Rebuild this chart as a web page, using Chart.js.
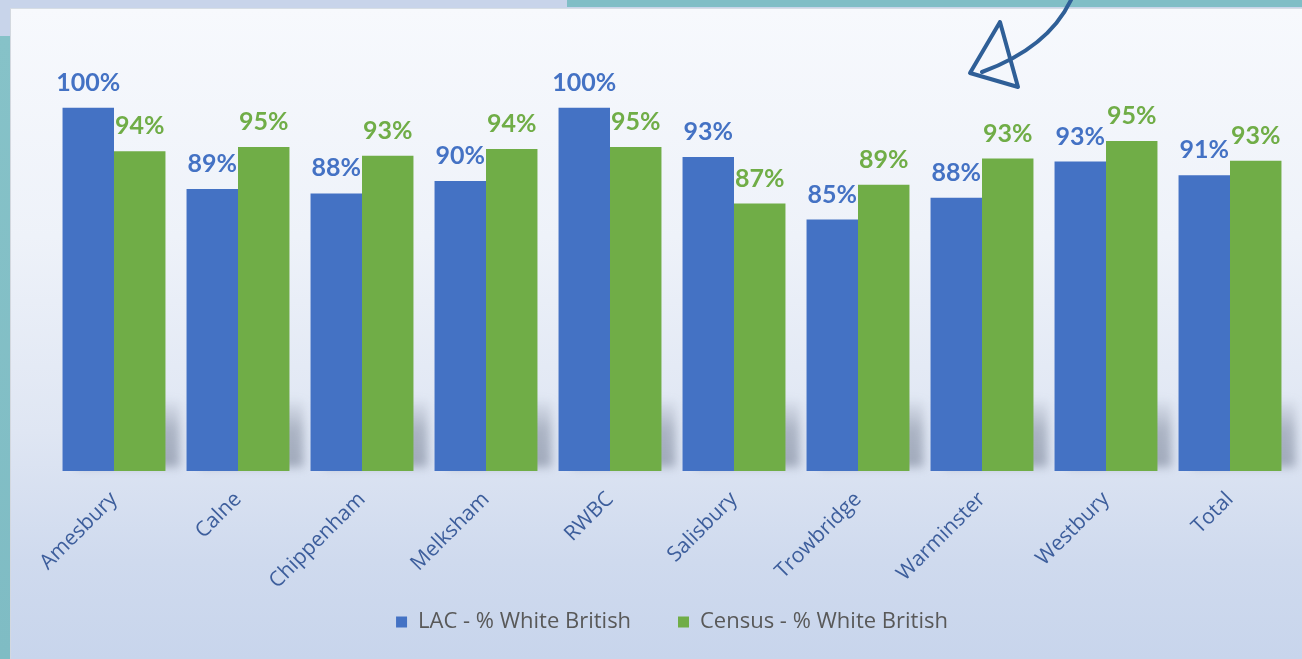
<!DOCTYPE html>
<html>
<head>
<meta charset="utf-8">
<script src="https://cdn.jsdelivr.net/npm/chart.js@4/dist/chart.umd.min.js"></script>
<style>
  html, body { margin: 0; padding: 0; }
  body { width: 1302px; height: 659px; position: relative; overflow: hidden; background: #c8d4ea; }
  .bar-top { position: absolute; left: 567px; top: 0; width: 735px; height: 7px; background: #80bec6; }
  .bar-left { position: absolute; left: 0; top: 36px; width: 10px; height: 623px; background: linear-gradient(#86c2c8, #7fbcc4); }
  .panel { position: absolute; left: 10px; top: 8px; width: 1292px; height: 651px;
           border-left: 1px solid #d3d8df; border-top: 1px solid #d6dde4; box-sizing: border-box;
           background: linear-gradient(to bottom, #f7f9fd 0%, #eef2f9 35%, #dfe6f3 65%, #cfdaee 85%, #c8d5ec 100%); }
  #wrap { position: absolute; left: 0; top: 0; width: 1302px; height: 659px; }
  svg.arrow { position: absolute; left: 0; top: 0; pointer-events: none; }
</style>
</head>
<body>
<div class="bar-top"></div>
<div class="bar-left"></div>
<div class="panel"></div>
<div id="wrap"><canvas id="chart" width="1302" height="659"></canvas></div>
<svg class="arrow" width="1302" height="120" viewBox="0 0 1302 120">
  <g fill="none" stroke="#2f5f97" stroke-width="4" stroke-linecap="round" stroke-linejoin="round">
    <path d="M1071,0 Q1048,48 982,72"/>
    <path d="M1000,22 L970,73 L1018,87 Z"/>
  </g>
</svg>
<script>
// Wiltshire areas: share of looked-after children vs census population who are White British
const categories = ['Amesbury', 'Calne', 'Chippenham', 'Melksham', 'RWBC', 'Salisbury', 'Trowbridge', 'Warminster', 'Westbury', 'Total'];
const lacWhiteBritish = [1.00, 0.888, 0.882, 0.899, 1.00, 0.932, 0.846, 0.876, 0.926, 0.907];
const censusWhiteBritish = [0.940, 0.946, 0.934, 0.943, 0.946, 0.868, 0.894, 0.930, 0.954, 0.927];
const seriesNames = ['LAC - % White British', 'Census - % White British'];
const seriesColors = ['#4472c4', '#70ad47'];

const LABEL_FONT = 'Lato, "Open Sans", "DejaVu Sans", sans-serif';
const TEXT_FONT = '"Open Sans", Lato, "DejaVu Sans", sans-serif';

// soft drop shadow behind each pair of bars
const barShadows = {
  id: 'barShadows',
  beforeDatasetsDraw(chart) {
    const ctx = chart.ctx;
    const area = chart.chartArea;
    const m0 = chart.getDatasetMeta(0).data;
    const m1 = chart.getDatasetMeta(1).data;
    ctx.save();
    ctx.filter = 'blur(5px)';
    m1.forEach((g, i) => {
      const b = m0[i];
      const left = b.x - b.width / 2;
      const right = g.x + g.width / 2;
      const grad = ctx.createLinearGradient(0, area.bottom - 75, 0, area.bottom);
      grad.addColorStop(0, 'rgba(110,120,140,0)');
      grad.addColorStop(0.45, 'rgba(110,120,140,0.45)');
      grad.addColorStop(1, 'rgba(110,120,140,0.55)');
      ctx.fillStyle = grad;
      ctx.fillRect(left + 14, area.bottom - 70, right - left, 66);
    });
    ctx.restore();
  }
};

// percentage labels above each bar
const valueLabels = {
  id: 'valueLabels',
  afterDatasetsDraw(chart) {
    const ctx = chart.ctx;
    ctx.save();
    ctx.font = 'bold 25px ' + LABEL_FONT;
    ctx.textAlign = 'center';
    ctx.textBaseline = 'middle';
    chart.data.datasets.forEach((ds, di) => {
      ctx.fillStyle = seriesColors[di];
      chart.getDatasetMeta(di).data.forEach((el, i) => {
        ctx.fillText(Math.round(ds.data[i] * 100) + '%', el.x, el.y - 25);
      });
    });
    ctx.restore();
  }
};

new Chart(document.getElementById('chart'), {
  type: 'bar',
  data: {
    labels: categories,
    datasets: [
      { label: seriesNames[0], data: lacWhiteBritish, backgroundColor: seriesColors[0] },
      { label: seriesNames[1], data: censusWhiteBritish, backgroundColor: seriesColors[1] }
    ]
  },
  options: {
    responsive: false,
    animation: false,
    devicePixelRatio: 1,
    layout: { padding: { left: 52, right: 10, top: 35, bottom: 16 } },
    datasets: { bar: { categoryPercentage: 0.83, barPercentage: 1.0, borderWidth: 0 } },
    scales: {
      x: {
        grid: { display: false },
        border: { display: false },
        ticks: {
          color: '#3d5e9c',
          font: { family: TEXT_FONT, size: 21 },
          maxRotation: 45, minRotation: 45,
          padding: 8
        },
        afterFit(scale) { scale.height = 116; }
      },
      y: { display: false, min: 0.5, max: 1.1 }
    },
    plugins: {
      legend: {
        position: 'bottom',
        labels: {
          color: '#595959',
          font: { family: TEXT_FONT, size: 22 },
          boxWidth: 11, boxHeight: 11,
          padding: 24,
          generateLabels(chart) {
            const items = Chart.defaults.plugins.legend.labels.generateLabels(chart);
            // extra spacing between the two legend entries
            items.forEach((it, i) => { if (i < items.length - 1) it.text += '    '; });
            return items;
          }
        }
      },
      tooltip: { enabled: false }
    }
  },
  plugins: [barShadows, valueLabels]
});
</script>
</body>
</html>
